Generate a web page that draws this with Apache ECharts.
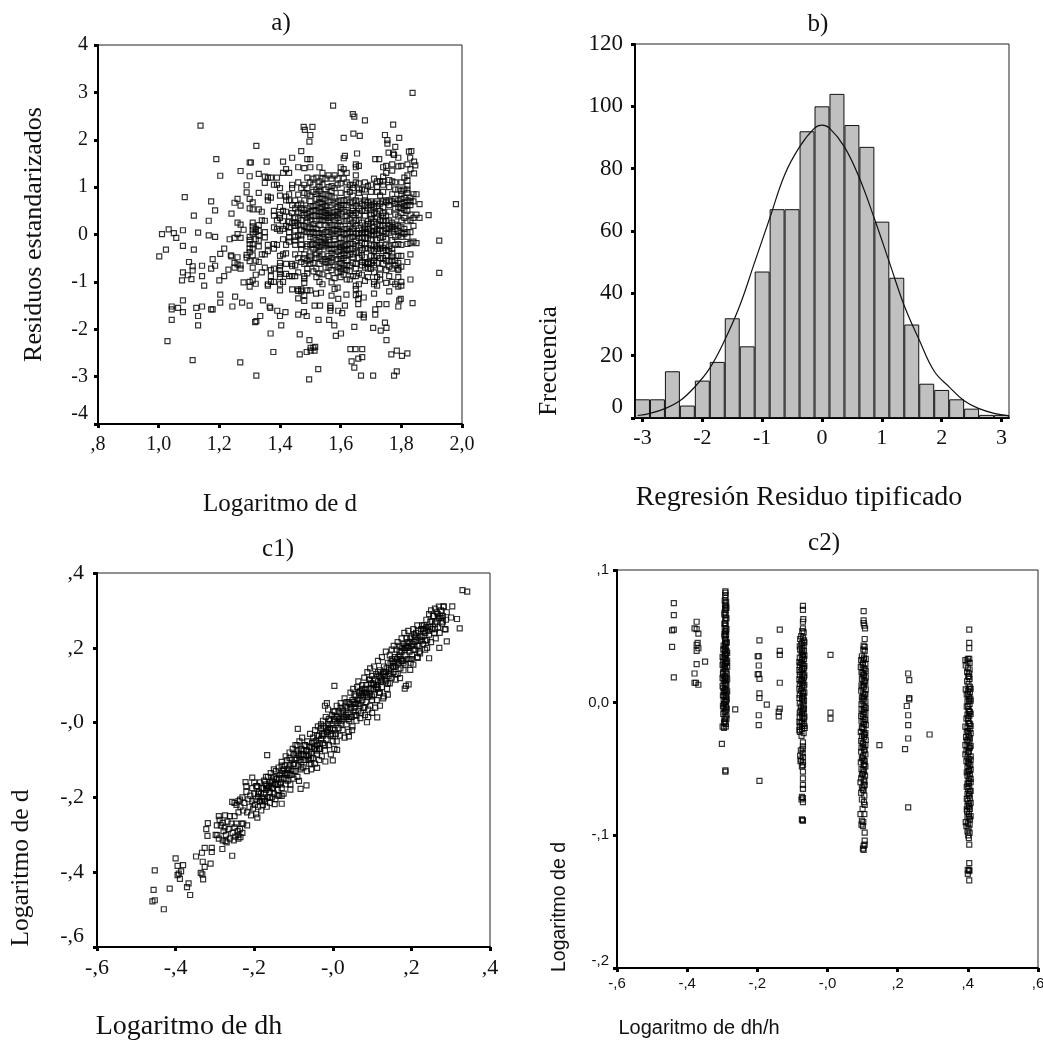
<!DOCTYPE html>
<html><head><meta charset="utf-8">
<style>html,body{margin:0;padding:0;background:#fff}#c{width:1043px;height:1040px}</style>
<script src="https://cdn.jsdelivr.net/npm/echarts@6/dist/echarts.min.js"></script>
</head><body><div id="c"></div>
<script>
// ---------- panel a ----------
const aXLabels=[',8','1,0','1,2','1,4','1,6','1,8','2,0'];
const aYLabels=['-4','-3','-2','-1','0','1','2','3','4'];
const aSparse=[[1.837,2.99],[1.575,2.72],[1.64,2.54],[1.645,2.49],[1.68,2.41],[1.138,2.3],[1.478,2.27],[1.482,2.21],[1.507,2.27],[1.5,2.1],[1.497,1.96],[1.773,2.32],[1.746,2.1],[1.754,1.99],[1.754,1.92],[1.793,2.04],[1.78,1.85],[1.642,2.13],[1.61,2.04],[1.663,2.08],[1.322,1.87],[1.47,1.76],[1.19,1.59],[1.203,1.24],[1.44,1.62],[1.49,1.59],[1.5,1.59],[1.41,1.54],[1.356,1.54],[1.304,1.52],[1.654,1.71],[1.614,1.66],[1.61,1.61],[1.758,1.73],[1.773,1.71],[1.776,1.68],[1.79,1.62],[1.825,1.75],[1.833,1.76],[1.829,1.62],[1.714,1.59],[1.727,1.59],[1.842,1.54],[1.846,1.46],[1.842,1.29],
[1.002,-.46],[1.011,.01],[1.033,.11],[1.05,.03],[1.058,-.07],[1.024,-.32],[1.08,.09],[1.08,-.24],[1.13,.04],[1.116,-.32],[1.165,-.02],[1.186,-.05],[1.086,.79],[1.116,.4],[1.173,.7],[1.186,.51],[1.165,.29],
[1.1,-.58],[1.112,-.67],[1.112,-.76],[1.143,-.66],[1.08,-.8],[1.096,-.86],[1.077,-.97],[1.108,-.94],[1.143,-.88],[1.15,-1.08],[1.178,-.52],[1.173,-.72],[1.186,-.66],[1.2,-.97],[1.216,-.88],[1.203,-.41],[1.216,-.3],[1.23,-.74],[1.234,-.1],[1.238,-.44],
[1.08,-1.39],[1.08,-1.64],[1.043,-1.52],[1.043,-1.58],[1.064,-1.55],[1.043,-1.8],[1.124,-1.55],[1.143,-1.52],[1.13,-1.72],[1.13,-1.92],[1.173,-1.58],[1.178,-1.58],[1.203,-1.27],[1.203,-1.44],[1.243,-1.52],[1.252,-1.31],[1.275,-1.44],[1.3,-1.5],
[1.029,-2.25],[1.112,-2.65],[1.269,-2.7],[1.322,-2.98],[1.496,-3.06],[1.526,-2.84],[1.667,-2.98],[1.707,-2.98],[1.776,-2.98],[1.785,-2.89],
[1.318,-1.85],[1.322,-1.83],[1.335,-1.72],[1.369,-2.09],[1.378,-2.48],[1.404,-1.92],[1.4,-1.72],[1.391,-1.61],[1.418,-1.64],[1.344,-1.39],[1.366,-1.52],[1.368,-1.55],
[1.465,-2.11],[1.46,-1.69],[1.479,-1.64],[1.488,-1.72],[1.497,-2.23],[1.465,-2.53],[1.488,-2.48],[1.501,-2.45],[1.501,-2.39],[1.51,-2.39],[1.514,-2.45],[1.516,-2.37],
[1.527,-1.8],[1.514,-1.5],[1.532,-1.5],[1.535,-1.23],[1.519,-1.25],[1.562,-1.8],[1.566,-1.61],[1.566,-1.5],[1.566,-1.55],[1.579,-1.92],[1.584,-2.14],[1.601,-2.09],[1.605,-1.66],[1.592,-1.61],[1.614,-1.5],[1.619,-1.27],[1.592,-1.36],
[1.645,-1.95],[1.632,-2.42],[1.649,-2.42],[1.671,-2.42],[1.636,-2.68],[1.645,-2.81],[1.658,-2.62],[1.671,-2.59],[1.663,-1.69],[1.676,-1.69],[1.676,-1.75],[1.658,-1.47],[1.658,-1.36],[1.676,-1.33],[1.707,-1.97],[1.714,-1.69],[1.714,-1.58],[1.727,-1.47],[1.732,-2.03],[1.746,-1.86],[1.751,-1.97],[1.751,-2.23],[1.751,-1.47],[1.767,-2.53],[1.785,-2.45],[1.802,-2.56],[1.82,-2.51],[1.79,-1.52],[1.793,-1.39],[1.798,-1.36],[1.837,-1.45],
[1.89,.41],[1.98,.64],[1.925,-.13],[1.925,-.81]];
const aLeftDense=[[1.26,.75],[1.25,.67],[1.27,.61],[1.24,.44],[1.26,.25],[1.27,.21],[1.26,.01],[1.25,-.07],[1.27,-.07],[1.29,1.04],[1.29,.89],[1.28,.1],[1.25,-.6],[1.26,-.63],[1.26,-.48],[1.24,-.46],[1.25,-.7],[1.27,-.72],[1.27,-.65],[1.27,1.34],[1.3,1.52],[1.3,1.23],[1.3,.75],[1.31,.68],[1.3,.55],[1.31,.53],[1.29,-.49],[1.3,-.56],[1.29,-.43],[1.3,-.37],[1.3,-.29],[1.3,-.2],[1.3,-.12],[1.3,-.05],[1.31,.02],[1.31,.1],[1.31,.17],[1.31,.25],[1.28,-1.01],[1.3,-1.1],[1.3,-1.0],[1.31,-.97],[1.32,-1.04],[1.32,-.85],[1.31,-.7],[1.32,-.55],[1.31,-.44],[1.31,-.3],[1.31,-.21],[1.32,-.1],[1.32,.05],[1.32,.12],
[1.33,1.28],[1.33,.88],[1.33,.53],[1.34,.48],[1.34,.3],[1.33,.2],[1.33,.08],[1.33,-.02],[1.33,-.13],[1.33,-.25],[1.34,-.42],[1.33,-.58],[1.35,-.7],[1.34,-.8],[1.35,1.22],[1.35,1.09],[1.36,1.2],[1.37,1.2],[1.38,1.05],[1.36,.8],[1.37,.78],[1.36,.72],[1.35,.29],[1.35,.05],[1.35,-.06],[1.36,-.22],[1.35,-.42],[1.36,-.35],[1.37,-.75],[1.37,-.88],[1.37,-1.0],[1.36,-1.05],[1.36,-1.08],[1.38,-1.0],[1.38,-.72],[1.38,-.3],[1.38,-.2],[1.38,.15],[1.38,.4],[1.38,.5],[1.39,.3],[1.39,1.2],[1.39,1.05],[1.4,.98],[1.4,.82],[1.4,.58],[1.4,.42],[1.4,.35],[1.39,.12],[1.39,-.22],[1.4,-.45],[1.41,-.42],[1.4,-.6],[1.4,-.67],[1.4,-.75],[1.4,-.83],[1.4,-.9],[1.41,-1.0],[1.4,-1.05],[1.4,-1.18],[1.41,.28],[1.41,.5],[1.41,1.3],
[1.42,1.38],[1.42,.8],[1.42,.72],[1.43,.85],[1.42,.48],[1.43,.38],[1.43,.27],[1.42,-.22],[1.43,-.06],[1.43,-.15],[1.42,-.4],[1.42,-.83],[1.43,-.88],[1.44,-.62],[1.44,-.67],[1.45,-.65],[1.44,-.88],[1.45,-.88],[1.44,-1.16],[1.46,-1.16],[1.46,-1.19],[1.47,-1.16],[1.47,-1.2],[1.46,-1.35],[1.48,-1.4],[1.48,-1.28],[1.49,-1.18],[1.5,-1.18],[1.43,1.3],[1.44,1.05],[1.44,.98],[1.45,.72],[1.45,.55],[1.45,.36],[1.45,.25],[1.45,.18],[1.45,-.05],[1.45,-.13],[1.45,-.22],[1.46,1.42],[1.46,1.1],[1.47,.98],[1.46,.84],[1.47,.65],[1.47,.45],[1.47,.3],[1.46,.21],[1.47,.1],[1.47,-.1],[1.47,-.22],[1.47,-.58],[1.48,-.42],[1.48,-.88],[1.48,-.93],[1.48,-1.02],[1.48,1.4],[1.49,1.2],[1.48,1.05],[1.49,.85],[1.48,.72],[1.49,.55],[1.49,.35],[1.48,.18],[1.49,.05],[1.49,-.2],[1.49,-.25],[1.5,-.22],[1.49,-.55],[1.49,-.72],[1.5,1.42],[1.5,1.1],[1.5,.82],[1.5,.7],[1.5,.48],[1.5,.3],[1.5,.15],[1.5,.02],[1.5,-.05],[1.5,-.38],[1.5,-.53],[1.5,-.62],[1.51,-.6],[1.51,-.32],[1.51,.05],[1.51,.22],[1.51,.4],[1.51,.6],[1.51,.9],[1.51,1.18],[1.52,1.2],[1.52,.95],[1.52,.75],[1.52,.5],[1.52,.28],[1.52,.12],[1.52,-.12],[1.52,-.22],[1.52,-.5],[1.52,-.72]];
const aRightDense=[[1.53,1.42],[1.53,1.12],[1.53,.92],[1.53,.78],[1.53,.55],[1.53,.4],[1.53,.2],[1.53,.03],[1.53,-.15],[1.53,-.35],[1.53,-.62],[1.53,-.82],[1.54,-.84],[1.53,-1.0],[1.54,-1.05],[1.54,1.3],[1.54,1.05],[1.54,.85],[1.54,.65],[1.54,.48],[1.54,.3],[1.54,.1],[1.54,-.05],[1.54,-.22],[1.54,-.42],[1.55,-.52],[1.55,-.7],[1.55,1.18],[1.55,.95],[1.55,.72],[1.55,.52],[1.55,.38],[1.55,.2],[1.55,.05],[1.55,-.18],[1.56,-.3],[1.56,1.25],[1.56,1.0],[1.56,.82],[1.56,.5],[1.56,.42],[1.56,.15],[1.56,-.05],[1.56,-.22],[1.56,-.55],[1.57,-.75],[1.57,1.18],[1.57,.92],[1.57,.46],[1.57,.2],[1.57,.02],[1.57,-.22],[1.57,-.4],[1.57,-.58],[1.57,-1.01],[1.58,-1.15],[1.57,-1.29],[1.59,-1.12],[1.58,1.25],[1.58,.78],[1.58,.48],[1.58,.3],[1.58,.08],[1.58,-.1],[1.58,-.3],[1.59,-.68],[1.59,-.52],[1.59,1.05],[1.59,.7],[1.59,.35],[1.59,.18],[1.59,.02],[1.59,-.2],[1.6,1.42],[1.6,1.3],[1.6,1.08],[1.6,.72],[1.6,.55],[1.6,.3],[1.6,.05],[1.6,-.18],[1.6,-.33],[1.6,-.45],[1.6,-.72],[1.6,-.78],[1.61,-.65],[1.61,-.85],[1.61,1.38],[1.61,1.18],[1.61,.62],[1.61,.28],[1.61,.02],[1.61,-.25],[1.61,-.4],[1.62,-.75],[1.62,-.95],[1.62,1.3],[1.62,.95],[1.62,.72],[1.62,.48],[1.62,.12],[1.62,-.1],[1.62,-.33],[1.62,-.55],[1.63,-.65],[1.63,-.95],[1.63,1.05],[1.63,.9],[1.63,.45],[1.63,.18],[1.63,.05],[1.63,-.2],[1.63,-.42],[1.64,-.88],[1.64,.98],[1.64,.82],[1.64,.55],[1.64,.25],[1.64,.12],[1.64,-.05],[1.64,-.3],[1.64,-.48],[1.65,1.48],[1.65,1.42],[1.65,1.25],[1.65,1.1],[1.65,.72],[1.65,.45],[1.65,.18],[1.65,.02],[1.65,-.25],[1.65,-.62],[1.65,-.88],[1.65,-1.08],[1.65,-1.15],[1.65,-1.28],[1.66,-1.05],[1.66,-1.25],[1.66,1.45],[1.66,.95],[1.66,.55],[1.66,.3],[1.66,.02],[1.66,-.38],[1.67,.95],[1.67,.5],[1.67,.25],[1.67,.03],[1.67,-.18],[1.67,-.58],[1.68,-.98],[1.68,.95],[1.68,.62],[1.68,.4],[1.68,.05],[1.68,-.08],[1.68,-.3],[1.68,-.6],[1.69,-.72],[1.69,1.02],[1.69,.55],[1.69,.28],[1.69,.22],[1.69,-.08],[1.69,-.62],[1.7,.62],[1.7,.42],[1.7,.25],[1.7,.08],[1.7,-.1],[1.7,-.32],[1.7,-.6],[1.71,-.8],[1.71,-1.0],[1.71,-1.05],[1.71,-1.25],[1.71,1.18],[1.71,.65],[1.71,.45],[1.71,.15],[1.71,.0],[1.71,-.35],[1.71,-.65],[1.72,1.12],[1.72,.9],[1.72,.6],[1.72,.22],[1.72,.1],[1.72,-.12],[1.72,-.3],[1.72,-.9],[1.72,-1.08],[1.73,1.12],[1.73,.82],[1.73,.5],[1.73,.18],[1.73,.08],[1.73,-.3],[1.73,-.85],[1.74,1.42],[1.74,1.22],[1.74,1.05],[1.74,.7],[1.74,.45],[1.74,.2],[1.74,-.05],[1.74,-.35],[1.74,-.5],[1.75,1.45],[1.75,1.3],[1.75,.68],[1.75,.4],[1.75,.28],[1.75,.02],[1.75,-.22],[1.75,-.75],[1.75,-1.02],[1.76,-1.2],[1.76,.72],[1.76,.3],[1.76,.12],[1.76,-.35],[1.76,-.55],[1.77,1.48],[1.77,1.35],[1.77,1.12],[1.77,.85],[1.77,.25],[1.77,.08],[1.77,-.4],[1.77,-.55],[1.77,-1.0],[1.78,1.1],[1.78,.75],[1.78,.55],[1.78,.12],[1.78,-.05],[1.78,-.22],[1.78,-.55],[1.78,-1.05],[1.79,-.72],[1.79,-.75],[1.79,1.44],[1.79,.95],[1.79,.58],[1.79,.38],[1.79,.18],[1.79,-.02],[1.79,-.2],[1.79,-.6],[1.79,-1.1],[1.8,1.45],[1.8,.92],[1.8,.75],[1.8,.55],[1.8,.15],[1.8,-.05],[1.8,-.22],[1.8,-.45],[1.8,-.68],[1.8,-1.0],[1.8,-1.08],[1.81,1.2],[1.81,.95],[1.81,.78],[1.81,.68],[1.81,.02],[1.82,-.2],[1.82,1.48],[1.82,1.25],[1.82,1.03],[1.82,.88],[1.82,.72],[1.82,.5],[1.82,.05],[1.82,-.58],[1.83,1.38],[1.83,.78],[1.83,.62],[1.83,.42],[1.83,.3],[1.83,-.18],[1.83,-.42],[1.83,-.95],[1.84,.85],[1.84,.7],[1.84,.35],[1.84,.18],[1.84,-.15],[1.85,.85],[1.85,.42],[1.85,-.18],[1.86,.64],[1.86,.35]];
const aCore=[[1.46,.62],[1.47,.55],[1.48,.41],[1.49,.27],[1.46,.34],[1.47,.19],[1.48,.06],[1.46,-.02],[1.47,-.31],[1.48,-.62],[1.5,.6],[1.51,.51],[1.52,.39],[1.51,.13],[1.53,.47],[1.54,.58],[1.55,.45],[1.56,.29],[1.57,.36],[1.58,.21],[1.59,.49],[1.6,.17],[1.61,.11],[1.62,.29],[1.63,.32],[1.64,.41],[1.65,.3],[1.66,.13],[1.67,.09],[1.68,.19],[1.69,.12],[1.7,.51],[1.71,.27],[1.72,.36],[1.73,.31],[1.74,.29],[1.75,.13],[1.76,.19],[1.77,.16],[1.78,.21],[1.79,.07],[1.8,.03],[1.43,.15],[1.44,.24],[1.44,.45],[1.44,.62],[1.43,.72],[1.42,.18],[1.41,.12],[1.4,.08],[1.41,-.1],[1.42,-.62],[1.51,-.2],[1.52,-.28],[1.53,-.26],[1.54,-.19],[1.55,-.25],[1.56,-.12],[1.57,-.31],[1.58,-.22],[1.59,-.36],[1.6,-.26],[1.61,-.31],[1.62,-.23],[1.63,-.3],[1.64,-.2],[1.65,-.38],[1.66,-.23],[1.67,-.33],[1.68,-.2],[1.69,-.29],[1.7,-.23],[1.71,-.22],[1.72,-.25],[1.73,-.22],[1.74,-.28],[1.75,-.33],[1.76,-.25],[1.77,-.3],[1.52,.62],[1.53,.68],[1.54,.75],[1.55,.6],[1.56,.68],[1.57,.62],[1.58,.65],[1.59,.58],[1.6,.62],[1.61,.72],[1.62,.62],[1.63,.68],[1.64,.68],[1.65,.6],[1.66,.7],[1.67,.65],[1.68,.72],[1.69,.68],[1.7,.7],[1.71,.58],[1.72,.7],[1.73,.65],[1.74,.58],[1.75,.72],[1.76,.62],[1.77,.7],[1.78,.65],[1.79,.72],[1.8,.65],[1.81,.6],[1.82,.62],[1.83,.7],[1.55,-.58],[1.56,-.7],[1.58,-.65],[1.59,-.8],[1.6,-.6],[1.61,-.72],[1.62,-.65],[1.63,-.78],[1.64,-.6],[1.65,-.72],[1.66,-.82],[1.67,-.65],[1.68,-.7],[1.69,-.58],[1.7,-.72],[1.71,-.55],[1.72,-.6],[1.73,-.72],[1.74,-.62],[1.75,-.55],[1.76,-.68],[1.77,-.72],[1.78,-.65],[1.52,.85],[1.53,1.0],[1.55,.85],[1.57,.8],[1.58,.98],[1.6,.88],[1.62,.85],[1.64,1.05],[1.66,.88],[1.68,.8],[1.7,.9],[1.72,1.0],[1.74,.9],[1.76,1.0],[1.78,.95],[1.8,.85],[1.82,.95],[1.81,.35],[1.82,.28],[1.8,.3],[1.81,.12],[1.82,-.05],[1.83,.05]];
const aGaps=[[1.43,.05],[1.45,.08],[1.47,-.02],[1.49,.13],[1.51,-.08],[1.52,.03],[1.53,-.06],[1.54,.02],[1.55,-.1],[1.56,.06],[1.57,.1],[1.58,-.04],[1.59,.11],[1.6,-.07],[1.61,-.11],[1.62,.03],[1.63,-.08],[1.64,.04],[1.65,-.13],[1.66,-.07],[1.67,-.06],[1.68,.12],[1.69,.04],[1.7,-.02],[1.71,.07],[1.72,.02],[1.73,-.07],[1.74,.07],[1.75,-.09],[1.76,.04],[1.77,-.12],[1.45,-.42],[1.46,-.5],[1.48,-.5],[1.5,-.46],[1.52,-.42],[1.53,-.48],[1.54,-.55],[1.56,-.45],[1.57,-.5],[1.58,-.44],[1.6,-.52],[1.61,-.5],[1.62,-.44],[1.64,-.42],[1.66,-.5],[1.67,-.44],[1.68,-.48],[1.7,-.45],[1.71,-.48],[1.72,-.45],[1.73,-.5],[1.75,-.45],[1.77,-.47],[1.79,-.45],[1.46,.48],[1.48,.52],[1.49,.44],[1.5,.38],[1.53,.32],[1.54,.38],[1.55,.3],[1.56,.35],[1.58,.4],[1.59,.42],[1.6,.44],[1.61,.48],[1.62,.4],[1.64,.5],[1.66,.42],[1.68,.5],[1.7,.33],[1.72,.44],[1.74,.38],[1.76,.48],[1.78,.42],[1.8,.45],[1.81,.52],[1.46,-.8],[1.49,-.82],[1.51,-.78],[1.52,-.9],[1.56,-.88],[1.58,-.92],[1.6,-.9],[1.67,-.85],[1.69,-.9],[1.73,-.95],[1.76,-.88],[1.79,-.9],[1.48,.88],[1.49,.98],[1.51,1.05],[1.54,1.18],[1.57,1.02],[1.59,1.18],[1.62,1.1],[1.66,1.08],[1.68,1.1],[1.7,1.05],[1.74,1.12],[1.76,1.15],[1.8,1.1],[1.82,1.13]];
// ---------- panel b ----------
const bBins=['-3,0','-2,8','-2,5','-2,3','-2,0','-1,8','-1,5','-1,3','-1,0','-,8','-,5','-,3','0,0',',3',',5',',8','1,0','1,3','1,5','1,8','2,0','2,3','2,5','2,8','3,0'];
const bFreq=[6,6,15,4,12,18,32,23,47,67,67,92,100,104,94,87,63,45,30,11,9,6,3,1,1];
const bCurveX=[-3.08,-2.875,-2.625,-2.375,-2.125,-1.875,-1.625,-1.375,-1.125,-.875,-.625,-.375,-.125,0,.125,.375,.625,.875,1.125,1.375,1.625,1.875,2.125,2.375,2.625,2.875,3.125];
const bCurveY=[.8,1.5,3,5.5,10,16,25,36,50,64,78,87,93,94,93,87,77,64,50,36,25,15,10,5.5,3,1.5,.7];
const bXTicks=[-3,-2,-1,0,1,2,3];
const bYLabels=['0','20','40','60','80','100','120'];
// ---------- panel c1 ----------
const c1XLabels=['-,6','-,4','-,2','-,0',',2',',4'];
const c1YLabels=['-,6','-,4','-,2','-,0',',2',',4'];
const c1Sparse=[[.33,.354],[.342,.35],[.304,.311],[.282,.311],[.301,.281],[.316,.277],[.323,.252],[.287,.249],[.29,.217],[.271,.2],[.245,.172],[.193,.102],[.183,.091],[.186,.098],[.197,.141],[.171,.119],[.216,.173],[.004,.098],[.113,.014],[.1,.026],[.087,.001],[.09,.035],[.07,.012],[.049,-.02],[.041,-.037],[.011,-.073],[0,-.101],[-.019,-.104],[-.04,-.121],[-.055,-.11],[-.167,-.087],[-.089,-.017],[-.067,-.168],[-.082,-.177],[-.086,-.156],[-.108,-.179],[-.13,-.196],[-.13,-.217],[-.148,-.218],[-.222,-.159],[-.205,-.147],[-.256,-.212],[-.236,-.206],[-.29,-.25],[-.274,-.248],[-.192,-.254],[-.218,-.275],[-.235,-.306],[-.318,-.269],[-.322,-.285],[-.319,-.303],[-.294,-.301],[-.273,-.317],[-.252,-.315],[-.281,-.338],[-.256,-.356],[-.326,-.335],[-.308,-.335],[-.308,-.346],[-.333,-.348],[-.348,-.358],[-.4,-.363],[-.395,-.383],[-.381,-.381],[-.386,-.398],[-.392,-.404],[-.389,-.418],[-.395,-.408],[-.331,-.372],[-.311,-.377],[-.326,-.386],[-.336,-.402],[-.332,-.406],[-.33,-.419],[-.453,-.395],[-.456,-.447],[-.415,-.444],[-.367,-.43],[-.371,-.44],[-.363,-.461],[-.453,-.475],[-.459,-.478],[-.43,-.499],
[-.288,-.26],[-.285,-.275],[-.28,-.268],[-.278,-.29],[-.275,-.28],[-.272,-.3],[-.268,-.265],[-.265,-.285],[-.262,-.31],[-.258,-.27],[-.255,-.295],[-.25,-.28],[-.248,-.305],[-.245,-.27],[-.242,-.29],[-.24,-.3],[-.236,-.285],[-.232,-.27],[-.23,-.295],[-.228,-.27],[-.295,-.275],[-.298,-.3],[-.29,-.31],[-.28,-.315],[-.262,-.25],[-.25,-.25],[-.24,-.24],[-.27,-.32],[-.24,-.31]];
const c1LowerBand=[[-.25,-.215],[-.245,-.22],[-.24,-.21],[-.235,-.225],[-.23,-.2],[-.228,-.235],[-.225,-.215],[-.22,-.185],[-.22,-.17],[-.218,-.24],[-.215,-.205],[-.212,-.225],[-.21,-.195],[-.208,-.248],[-.205,-.175],[-.205,-.21],[-.203,-.23],[-.2,-.19],[-.2,-.16],[-.198,-.22],[-.196,-.205],[-.195,-.245],[-.192,-.17],[-.19,-.198],[-.19,-.225],[-.188,-.185],[-.186,-.21],[-.185,-.16],[-.182,-.235],[-.18,-.175],[-.18,-.2],[-.178,-.22],[-.175,-.19],[-.175,-.155],[-.172,-.21],[-.17,-.165],[-.17,-.18],[-.168,-.225],[-.165,-.2],[-.165,-.145],[-.162,-.17],[-.16,-.185],[-.16,-.215],[-.158,-.135],[-.155,-.155],[-.155,-.2],[-.152,-.175],[-.15,-.145],[-.15,-.19],[-.148,-.165],[-.146,-.205],[-.145,-.13],[-.142,-.15],[-.14,-.18],[-.14,-.165],[-.138,-.12],[-.136,-.195],[-.135,-.14],[-.132,-.16],[-.13,-.105],[-.13,-.175],[-.128,-.13],[-.125,-.15],[-.125,-.19],[-.122,-.115],[-.12,-.09],[-.12,-.165],[-.118,-.14],[-.116,-.1],[-.115,-.155],[-.112,-.12],[-.11,-.08],[-.11,-.14],[-.108,-.165],[-.105,-.1],[-.105,-.125],[-.102,-.07],[-.1,-.15],[-.1,-.085],[-.098,-.11],[-.095,-.13],[-.095,-.06],[-.092,-.095],[-.09,-.075],[-.09,-.145],[-.088,-.115],[-.085,-.05],[-.085,-.09],[-.082,-.125],[-.08,-.07],[-.08,-.105],[-.078,-.04],[-.075,-.085],[-.075,-.12],[-.072,-.06],[-.07,-.1],[-.068,-.075],[-.066,-.13],[-.065,-.05],[-.062,-.09],[-.06,-.065],[-.06,-.11],[-.058,-.03],[-.055,-.08],[-.055,-.125],[-.052,-.055],[-.05,-.095],[-.048,-.07],[-.045,-.02],[-.045,-.11],[-.042,-.05],[-.04,-.085],[-.04,-.06],[-.038,-.01],[-.035,-.035],[-.035,-.1],[-.032,-.07],[-.03,-.045],[-.03,-.015],[-.028,-.09],[-.025,.005],[-.025,-.055],[-.022,-.03],[-.02,.045],[-.02,-.075],[-.018,.015],[-.016,-.045],[-.015,.052],[-.012,.035],[-.012,-.02],[-.01,-.06],[-.008,.005],[-.006,-.035],[-.005,-.085],[-.002,.02],[0,-.015],[0,-.05],[.002,.03],[.004,-.07],[.005,.005],[.008,-.03]];
const c1UpperBand=[[.01,.045],[.01,-.05],[.012,.015],[.015,-.015],[.015,.03],[.018,-.035],[.02,.052],[.022,.005],[.025,.035],[.025,-.02],[.028,.015],[.03,-.04],[.03,.065],[.032,.045],[.035,-.005],[.038,.025],[.04,.055],[.04,-.025],[.042,.005],[.045,.08],[.045,.035],[.048,.015],[.05,.06],[.05,-.01],[.052,.09],[.055,.04],[.055,.02],[.058,.07],[.06,.005],[.06,.05],[.062,.095],[.065,.03],[.065,.11],[.068,.065],[.07,.045],[.07,.085],[.072,.025],[.075,.1],[.075,.06],[.078,.04],[.08,.12],[.08,.08],[.082,.02],[.085,.055],[.085,.1],[.088,.135],[.09,.07],[.09,.015],[.092,.115],[.095,.045],[.095,.145],[.098,.09],[.1,.06],[.1,.125],[.102,.105],[.105,.075],[.105,.15],[.108,.04],[.11,.095],[.11,.13],[.112,.06],[.115,.165],[.115,.11],[.118,.08],[.12,.14],[.12,.045],[.122,.12],[.125,.175],[.125,.095],[.128,.065],[.13,.15],[.13,.07],[.132,.115],[.135,.19],[.135,.135],[.138,.09],[.14,.16],[.14,.075],[.142,.125],[.145,.105],[.145,.18],[.148,.145],[.15,.195],[.15,.12],[.152,.165],[.155,.135],[.155,.205],[.158,.175],[.16,.15],[.16,.115],[.162,.195],[.165,.13],[.165,.215],[.168,.16],[.17,.18],[.17,.205],[.172,.145],[.175,.225],[.175,.19],[.178,.165],[.18,.14],[.18,.21],[.182,.24],[.185,.18],[.185,.155],[.188,.225],[.19,.2],[.19,.17],[.192,.245],[.195,.215],[.195,.19],[.198,.16],[.2,.23],[.2,.205],[.202,.18],[.205,.25],[.205,.155],[.208,.215],[.21,.195],[.212,.24],[.215,.26],[.215,.175],[.218,.225],[.22,.205],[.222,.185],[.225,.25],[.228,.23],[.23,.21],[.232,.26],[.235,.195],[.235,.24],[.238,.275],[.24,.22],[.242,.255],[.245,.29],[.245,.235],[.248,.27],[.25,.3],[.25,.215],[.252,.25],[.255,.285],[.258,.24],[.26,.305],[.26,.265],[.262,.225],[.265,.295],[.268,.255],[.27,.31],[.27,.28],[.272,.24],[.275,.3],[.278,.265],[.28,.285],[.282,.31],[.285,.25],[.288,.275],[.29,.295]];
const c1Core=[[-.19,-.19],[-.183,-.19],[-.176,-.175],[-.168,-.17],[-.16,-.16],[-.153,-.16],[-.145,-.15],[-.137,-.15],[-.13,-.135],[-.122,-.135],[-.115,-.125],[-.108,-.115],[-.1,-.11],[-.093,-.08],[-.087,-.085],[-.08,-.085],[-.074,-.075],[-.067,-.09],[-.06,-.085],[-.054,-.065],[-.047,-.05],[-.04,-.035],[-.034,-.055],[-.028,-.03],[-.022,-.01],[-.017,-.015],[-.012,-.005],[-.007,-.015],[-.003,-.005],[.003,.01],[.007,.015],[.012,0],[.017,.01],[.022,.025],[.027,.03],[.033,.02],[.037,.04],[.043,.05],[.047,.04],[.053,.055],[.057,.05],[.063,.06],[.067,.08],[.073,.075],[.077,.07],[.083,.09],[.087,.08],[.093,.09],[.097,.105],[.103,.09],[.107,.115],[.113,.1],[.117,.125],[.123,.11],[.127,.13],[.133,.125],[.137,.145],[.143,.14],[.147,.16],[.153,.15],[.157,.16],[.163,.17],[.167,.175],[.173,.17],[.177,.2],[.183,.195],[.187,.205],[.193,.2],[.197,.225],[.203,.21],[.207,.235],[.213,.22],[.217,.245],[.223,.23],[.227,.26],[.233,.245],[.237,.255],[.243,.245],[.247,.255],[.253,.27],[.257,.285],[.263,.27],[.267,.29],[.273,.285],[.277,.28],[-.185,-.21],[-.175,-.205],[-.165,-.175],[-.155,-.175],[-.145,-.165],[-.135,-.165],[-.125,-.125],[-.115,-.135],[-.105,-.14],[-.095,-.1],[-.085,-.1],[-.075,-.1],[-.065,-.075],[-.055,-.095],[-.045,-.07],[-.035,-.07],[-.025,-.035],[-.015,-.025],[-.005,-.03],[.005,-.02],[.015,.005],[.025,.01],[.035,.015],[.045,.015],[.055,.03],[.065,.05],[.075,.08],[.085,.075],[.095,.075],[.105,.1],[.115,.09],[.125,.115],[.135,.11],[.145,.13],[.155,.15],[.165,.155],[.175,.165],[.185,.2],[.195,.17],[.205,.195],[.215,.205],[.225,.22],[.235,.22]];
const c1Edges=[[-.195,-.17],[-.17,-.145],[-.15,-.125],[-.13,-.115],[-.11,-.095],[-.09,-.06],[-.07,-.06],[-.05,-.04],[-.03,-.005],[-.01,.01],[.005,.03],[.02,.04],[.035,.055],[.055,.075],[.075,.09],[.095,.115],[.115,.135],[.13,.135],[.15,.17],[.17,.19],[.19,.215],[.21,.23],[.23,.25],[-.18,-.21],[-.16,-.2],[-.14,-.195],[-.12,-.15],[-.1,-.13],[-.08,-.12],[-.06,-.1],[-.04,-.075],[-.02,-.06],[0,-.035],[.02,-.005],[.04,.01],[.06,.02],[.08,.04],[.1,.07],[.12,.08],[.14,.105],[.16,.13],[.18,.16],[.2,.17],[.22,.19],[.24,.2],[.26,.25],[.28,.27]];
// ---------- panel c2 ----------
const c2XLabels=['-,6','-,4','-,2','-,0',',2',',4',',6'];
const c2YLabels=['-,2','-,1','0,0',',1'];
const c2Sparse=[[-.438,.075],[-.438,.066],[-.438,.055],[-.443,.0545],[-.443,.042],[-.438,.019],[-.373,.061],[-.379,.056],[-.373,.0555],[-.368,.052],[-.37,.045],[-.373,.0435],[-.368,.041],[-.373,.039],[-.373,.029],[-.349,.031],[-.379,.022],[-.379,.015],[-.375,.015],[-.368,.0135],[-.301,-.031],[-.291,-.051],[-.291,-.052],[-.263,-.005],[-.199,.035],[-.196,.035],[-.196,.028],[-.196,.0216],[-.194,.018],[-.194,.047],[-.194,.007],[-.194,.0035],[-.173,-.0015],[-.196,-.0095],[-.196,-.017],[-.194,-.059],[-.199,.0213],[-.136,.055],[-.136,.039],[-.136,.036],[-.136,.015],[-.136,-.0045],[-.139,-.007],[-.139,-.0103],[.0085,.036],[.0085,-.0075],[.0085,-.012],[.148,-.032],[.23,.022],[.233,.017],[.233,.0035],[.233,.0025],[.226,-.0025],[.23,-.0095],[.23,-.017],[.23,-.027],[.221,-.035],[.23,-.079],[.291,-.024]];
const c2ColumnA=[[-.291,.084],[-.291,.083],[-.291,.081],[-.291,.079],[-.293,.077],[-.289,.076],[-.292,.074],[-.29,.073],[-.292,.071],[-.29,.07],[-.293,.068],[-.29,.066],[-.291,.064],[-.291,.062],[-.292,.06],[-.29,.058],[-.293,.056],[-.29,.054],[-.292,.053],[-.289,.051],[-.293,.05],[-.29,.048],[-.292,.047],[-.289,.045],[-.296,.043],[-.29,.042],[-.297,.04],[-.288,.039],[-.293,.037],[-.289,.036],[-.296,.034],[-.291,.033],[-.297,.031],[-.288,.03],[-.293,.029],[-.286,.027],[-.296,.026],[-.291,.025],[-.297,.023],[-.287,.022],[-.293,.02],[-.289,.019],[-.296,.017],[-.291,.016],[-.293,.014],[-.288,.013],[-.297,.011],[-.29,.01],[-.295,.008],[-.288,.007],[-.294,.005],[-.29,.004],[-.296,.002],[-.289,.001],[-.295,-.001],[-.29,-.002],[-.296,-.004],[-.29,-.006],[-.293,-.007],[-.291,-.011],[-.288,-.012],[-.292,-.014],[-.295,-.015],[-.29,-.016],[-.299,-.018],[-.295,-.019],[-.29,-.018],[-.288,.0715],[-.294,.0665],[-.288,.0635],[-.294,.0595],[-.288,.0555],[-.294,.0515],[-.287,.0455],[-.293,.0405],[-.286,.0375],[-.299,.0345],[-.286,.0315],[-.299,.0285],[-.298,.0215],[-.299,.0185],[-.286,.0175],[-.299,.0125],[-.286,.0085],[-.298,.0055],[-.287,.0025],[-.298,-.0025],[-.287,-.0045],[-.297,-.0085],[-.288,-.0095],[-.294,-.0125],[-.292,.0445],[-.291,.0395],[-.292,.0355],[-.29,.0305],[-.292,.0275],[-.29,.0235],[-.292,.0185],[-.29,.0145],[-.292,.0095],[-.29,.0055],[-.292,.0005],[-.29,-.0035]];
const c2ColumnB=[[-.07,.073],[-.07,.07],[-.069,.063],[-.07,.061],[-.07,.056],[-.072,.054],[-.068,.053],[-.075,.05],[-.07,.049],[-.078,.048],[-.067,.047],[-.072,.045],[-.075,.044],[-.068,.043],[-.072,.041],[-.078,.04],[-.067,.039],[-.074,.037],[-.07,.036],[-.079,.034],[-.067,.033],[-.073,.032],[-.076,.03],[-.069,.029],[-.079,.028],[-.067,.026],[-.073,.025],[-.077,.023],[-.069,.022],[-.079,.021],[-.067,.019],[-.073,.018],[-.076,.016],[-.069,.015],[-.079,.014],[-.068,.012],[-.073,.011],[-.076,.009],[-.07,.007],[-.079,.006],[-.068,.005],[-.073,.003],[-.071,.0],[-.068,-.002],[-.075,-.003],[-.07,-.005],[-.077,-.006],[-.068,-.008],[-.073,-.009],[-.079,-.011],[-.067,-.012],[-.073,-.014],[-.077,-.015],[-.068,-.016],[-.079,-.018],[-.065,-.019],[-.073,-.02],[-.079,-.022],[-.068,-.023],[-.074,-.025],[-.07,-.03],[-.07,-.033],[-.071,-.035],[-.076,-.036],[-.071,-.038],[-.078,-.04],[-.07,-.041],[-.075,-.043],[-.07,-.045],[-.077,-.044],[-.07,-.047],[-.073,-.048],[-.07,-.052],[-.07,-.057],[-.07,-.062],[-.07,-.065],[-.073,-.071],[-.07,-.072],[-.074,-.073],[-.07,-.075],[-.073,-.088],[-.07,-.089],[-.071,-.0885],[-.066,.0455],[-.079,.0425],[-.066,.0355],[-.08,.0305],[-.066,.0275],[-.08,.0245],[-.066,.0205],[-.08,.0175],[-.066,.0135],[-.08,.0105],[-.066,.0075],[-.08,.0035],[-.067,.0015],[-.079,-.0005],[-.067,-.0045],[-.079,-.0075],[-.066,-.0105],[-.08,-.0145],[-.066,-.0175],[-.08,-.0205],[-.072,.0385],[-.071,.0345],[-.072,.0295],[-.071,.0255],[-.072,.0205],[-.071,.0165],[-.072,.0135],[-.071,.0085],[-.072,.0045],[-.071,.0025],[-.072,-.0065],[-.071,-.0115],[-.072,-.0175]];
const c2ColumnC=[[.103,.069],[.103,.062],[.103,.06],[.105,.058],[.107,.056],[.106,.048],[.103,.043],[.106,.042],[.102,.04],[.106,.039],[.098,.035],[.104,.034],[.109,.033],[.096,.032],[.101,.03],[.108,.029],[.095,.027],[.103,.026],[.109,.024],[.097,.023],[.104,.021],[.109,.019],[.098,.018],[.103,.016],[.108,.015],[.097,.013],[.104,.012],[.109,.01],[.096,.009],[.102,.007],[.108,.006],[.098,.004],[.104,.003],[.108,.001],[.097,-.001],[.103,-.002],[.109,-.004],[.097,-.005],[.104,-.007],[.108,-.008],[.096,-.01],[.102,-.011],[.108,-.013],[.097,-.014],[.104,-.016],[.109,-.017],[.098,-.019],[.103,-.02],[.095,-.022],[.108,-.023],[.098,-.025],[.104,-.026],[.109,-.028],[.096,-.029],[.102,-.031],[.108,-.032],[.097,-.034],[.104,-.036],[.096,-.037],[.108,-.039],[.102,-.04],[.098,-.042],[.106,-.044],[.095,-.045],[.103,-.047],[.108,-.048],[.097,-.05],[.104,-.052],[.098,-.054],[.107,-.055],[.096,-.057],[.103,-.058],[.094,-.06],[.106,-.062],[.098,-.064],[.103,-.066],[.096,-.068],[.105,-.07],[.098,-.073],[.104,-.075],[.106,-.077],[.1,-.08],[.094,-.084],[.105,-.084],[.098,-.089],[.102,-.09],[.097,-.092],[.101,-.093],[.106,-.098],[.106,-.104],[.106,-.107],[.103,-.108],[.101,-.11],[.103,-.111],[.1,.0285],[.106,.0255],[.1,.0225],[.106,.0165],[.1,.0115],[.106,.0065],[.1,.0015],[.106,-.0035],[.1,-.0085],[.106,-.0125],[.1,-.0185],[.106,-.0245],[.1,-.0305],[.106,-.0355],[.1,-.0415],[.105,-.0465],[.101,-.0535],[.105,-.0595],[.101,-.0655],[.103,.0325],[.102,.0205],[.103,.0135],[.102,.0045],[.103,-.0055],[.102,-.0145],[.103,-.0235],[.102,-.0335],[.103,-.0435],[.102,-.0505],[.103,-.0625]];
const c2ColumnD=[[.404,.055],[.404,.045],[.404,.041],[.4,.033],[.404,.033],[.393,.032],[.399,.031],[.405,.03],[.394,.028],[.4,.026],[.405,.025],[.398,.023],[.404,.022],[.401,.02],[.405,.018],[.398,.016],[.402,.014],[.406,.012],[.394,.01],[.4,.009],[.406,.008],[.397,.006],[.403,.004],[.407,.003],[.399,.001],[.405,-.001],[.397,-.003],[.402,-.005],[.406,-.007],[.399,-.009],[.404,-.01],[.396,-.012],[.401,-.014],[.406,-.016],[.393,-.018],[.399,-.019],[.405,-.02],[.397,-.022],[.408,-.023],[.402,-.024],[.395,-.026],[.406,-.027],[.4,-.028],[.404,-.03],[.393,-.032],[.399,-.033],[.406,-.034],[.396,-.036],[.403,-.037],[.393,-.039],[.399,-.041],[.408,-.043],[.396,-.044],[.403,-.045],[.407,-.047],[.399,-.048],[.404,-.05],[.401,-.052],[.406,-.054],[.399,-.055],[.404,-.057],[.402,-.059],[.408,-.06],[.399,-.061],[.404,-.063],[.401,-.065],[.406,-.067],[.399,-.069],[.403,-.07],[.406,-.072],[.4,-.074],[.404,-.076],[.399,-.078],[.403,-.079],[.406,-.08],[.398,-.082],[.403,-.084],[.399,-.086],[.406,-.088],[.394,-.09],[.4,-.091],[.405,-.092],[.396,-.093],[.402,-.095],[.399,-.097],[.405,-.098],[.401,-.1],[.403,-.102],[.404,-.107],[.404,-.121],[.4,-.126],[.404,-.126],[.4,-.129],[.404,-.127],[.404,-.134],[.408,.0105],[.401,.0065],[.408,.0015],[.401,-.0025],[.408,-.0085],[.401,-.0115],[.408,-.0175],[.401,-.0215],[.397,-.0285],[.408,-.0325],[.401,-.0375],[.408,-.0405],[.401,-.0455],[.408,-.0505],[.397,-.0525],[.408,-.0575],[.397,-.0635],[.408,-.0665],[.397,-.0725],[.408,-.0755],[.397,-.0805],[.408,-.0855],[.403,.0195],[.403,.0105],[.403,.0015],[.403,-.0065],[.403,-.0155],[.403,-.0255],[.403,-.0345],[.403,-.0425],[.403,-.0515],[.403,-.0605],[.403,-.0685],[.403,-.0775],[.403,-.0865]];

const serif='"Liberation Serif"', sans='"Liberation Sans"';
const lookup=(labels,min,step)=>v=>labels[Math.round((v-min)/step)];
function valueAxis(opt,fontFamily,fontSize,margin,nameSize){
  const ax=Object.assign({type:'value',
    axisLine:{show:true,onZero:false,lineStyle:{color:'#000',width:2}},
    axisTick:{show:true,length:4,inside:false,lineStyle:{color:'#000',width:3}},
    splitLine:{show:false}},opt);
  ax.axisLabel=Object.assign({color:'#111',fontFamily,fontSize,margin},opt.axisLabel||{});
  ax.nameTextStyle=Object.assign({color:'#111',fontFamily,fontSize:nameSize},opt.nameTextStyle||{});
  ax.nameLocation='middle';
  return ax;
}
const square={type:'scatter',symbol:'rect',symbolSize:5,itemStyle:{color:'rgba(0,0,0,0)',borderColor:'#000',borderWidth:1.2},silent:true};
const frame={show:true,borderColor:'#222',borderWidth:1,backgroundColor:'#fff',outerBoundsMode:'none'};
const titleOf=(text,x,y)=>({text,left:x,top:y,textAlign:'center',textVerticalAlign:'middle',textStyle:{fontFamily:serif,fontSize:25,fontWeight:'normal',color:'#111'}});

const option={
  animation:false,backgroundColor:'#fff',
  title:[titleOf('a)',276,18),titleOf('b)',813,19),titleOf('c1)',273,544),titleOf('c2)',819,538)],
  grid:[
    Object.assign({left:98,top:45,width:364,height:379},frame),
    Object.assign({left:635,top:44,width:374,height:374},frame),
    Object.assign({left:97,top:573,width:393,height:374},frame),
    Object.assign({left:617,top:570,width:421,height:398},frame)
  ],
  xAxis:[
    valueAxis({gridIndex:0,min:.8,max:2,interval:.2,name:'Logaritmo de d',nameGap:68,axisLabel:{formatter:lookup(aXLabels,.8,.2)}},serif,20,11,25),
    valueAxis({gridIndex:1,min:-3.125,max:3.125,name:'Regresión Residuo tipificado',nameGap:66,nameTextStyle:{padding:[0,46,0,0]},axisTick:{show:true,length:4,lineStyle:{color:'#000',width:3},customValues:bXTicks},axisLabel:{customValues:bXTicks,formatter:v=>String(v)}},serif,22,9,28),
    {type:'category',gridIndex:1,show:false,data:bBins},
    valueAxis({gridIndex:2,min:-.6,max:.4,interval:.2,name:'Logaritmo de dh',nameGap:66,nameTextStyle:{padding:[0,209,0,0]},axisLabel:{formatter:lookup(c1XLabels,-.6,.2)}},serif,22,10,28),
    valueAxis({gridIndex:3,min:-.6,max:.6,interval:.2,name:'Logaritmo de dh/h',nameGap:50,nameTextStyle:{padding:[0,257,0,0]},axisLabel:{formatter:lookup(c2XLabels,-.6,.2)}},sans,15,8,20)
  ],
  yAxis:[
    valueAxis({gridIndex:0,min:-4,max:4,interval:1,name:'Residuos estandarizados',nameGap:51,axisLabel:{verticalAlignMinLabel:'bottom',formatter:lookup(aYLabels,-4,1)}},serif,20,10,26),
    valueAxis({gridIndex:1,min:0,max:120,interval:20,name:'Frecuencia',nameGap:73,nameTextStyle:{padding:[0,260,0,0]},axisLabel:{verticalAlignMinLabel:'bottom',formatter:lookup(bYLabels,0,20)}},serif,23,12,25),
    valueAxis({gridIndex:2,min:-.6,max:.4,interval:.2,name:'Logaritmo de d',nameGap:63,nameTextStyle:{padding:[0,216,0,0]},axisLabel:{verticalAlignMinLabel:'bottom',formatter:lookup(c1YLabels,-.6,.2)}},serif,22,13,25.5),
    valueAxis({gridIndex:3,min:-.2,max:.1,interval:.1,name:'Logaritmo de d',nameGap:47,nameTextStyle:{padding:[0,276,0,0]},axisLabel:{verticalAlignMinLabel:'bottom',formatter:lookup(c2YLabels,-.2,.1)}},sans,15,8,19.5)
  ],
  series:[
    Object.assign({},square,{name:'a sparse',xAxisIndex:0,yAxisIndex:0,data:aSparse}),
    Object.assign({},square,{name:'a left',xAxisIndex:0,yAxisIndex:0,data:aLeftDense}),
    Object.assign({},square,{name:'a right',xAxisIndex:0,yAxisIndex:0,data:aRightDense}),
    Object.assign({},square,{name:'a core',xAxisIndex:0,yAxisIndex:0,data:aCore}),
    Object.assign({},square,{name:'a gaps',xAxisIndex:0,yAxisIndex:0,data:aGaps}),
    {type:'bar',name:'Frecuencia',xAxisIndex:2,yAxisIndex:1,data:bFreq,barCategoryGap:0,itemStyle:{color:'#c0c0c0',borderColor:'#111',borderWidth:1},silent:true},
    {type:'line',name:'Normal',xAxisIndex:1,yAxisIndex:1,data:bCurveX.map((x,i)=>[x,bCurveY[i]]),smooth:.4,showSymbol:false,lineStyle:{color:'#111',width:1.2},z:5,silent:true},
    Object.assign({},square,{name:'c1 sparse',xAxisIndex:3,yAxisIndex:2,data:c1Sparse}),
    Object.assign({},square,{name:'c1 lower',xAxisIndex:3,yAxisIndex:2,data:c1LowerBand}),
    Object.assign({},square,{name:'c1 upper',xAxisIndex:3,yAxisIndex:2,data:c1UpperBand}),
    Object.assign({},square,{name:'c1 core',xAxisIndex:3,yAxisIndex:2,data:c1Core}),
    Object.assign({},square,{name:'c1 edges',xAxisIndex:3,yAxisIndex:2,data:c1Edges}),
    Object.assign({},square,{name:'c2 sparse',xAxisIndex:4,yAxisIndex:3,data:c2Sparse}),
    Object.assign({},square,{name:'c2 A',xAxisIndex:4,yAxisIndex:3,data:c2ColumnA}),
    Object.assign({},square,{name:'c2 B',xAxisIndex:4,yAxisIndex:3,data:c2ColumnB}),
    Object.assign({},square,{name:'c2 C',xAxisIndex:4,yAxisIndex:3,data:c2ColumnC}),
    Object.assign({},square,{name:'c2 D',xAxisIndex:4,yAxisIndex:3,data:c2ColumnD})
  ]
};
echarts.init(document.getElementById('c'),null,{renderer:'canvas'}).setOption(option);
</script></body></html>
